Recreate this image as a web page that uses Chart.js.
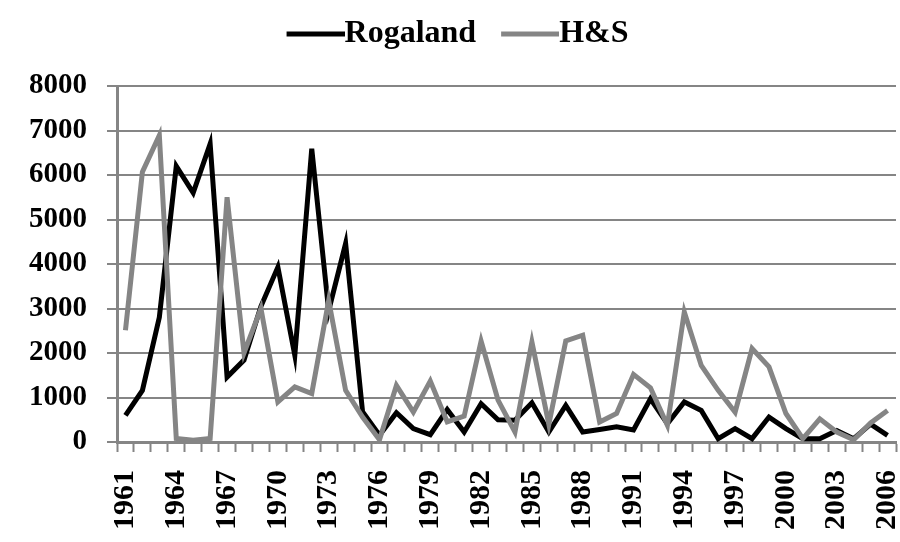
<!DOCTYPE html>
<html>
<head>
<meta charset="utf-8">
<script src="https://cdn.jsdelivr.net/npm/chart.js@4.4.0/dist/chart.umd.min.js"></script>
<style>
  html, body { margin: 0; padding: 0; background: #fff; }
</style>
</head>
<body>
<canvas id="chart" width="900" height="542"></canvas>
<script>
// years on the x axis
let years = ['1961','1962','1963','1964','1965','1966','1967','1968','1969','1970',
             '1971','1972','1973','1974','1975','1976','1977','1978','1979','1980',
             '1981','1982','1983','1984','1985','1986','1987','1988','1989','1990',
             '1991','1992','1993','1994','1995','1996','1997','1998','1999','2000',
             '2001','2002','2003','2004','2005','2006'];

let rogaland = [600,1160,2800,6200,5600,6700,1460,1840,3050,3930,
                1950,6590,2950,4460,680,150,660,300,165,730,
                225,860,500,490,880,225,820,225,280,340,
                270,970,410,900,710,75,300,75,560,300,
                75,75,260,75,400,150];

let hs = [2510,6070,6890,80,40,80,5500,2000,3000,900,
          1240,1090,3180,1160,560,50,1270,670,1370,450,
          580,2270,940,225,2250,400,2270,2400,450,640,
          1520,1220,375,2920,1720,1160,670,2100,1690,640,
          75,520,225,50,430,710];

let yTicks = [0,1000,2000,3000,4000,5000,6000,7000,8000];

let gray = '#858585';
let serif = "'Liberation Serif', 'Times New Roman', serif";

// legend swatch: a line that runs right up to the text
function legendLine(color){
    let c = document.createElement('canvas');
    c.width = 74; c.height = 6;
    let g = c.getContext('2d');
    g.strokeStyle = color;
    g.lineWidth = 5;
    g.beginPath();
    g.moveTo(16, 3);
    g.lineTo(74, 3);
    g.stroke();
    return c;
}

// extra room under the legend so it sits higher above the plot
let legendGap = {
    id: 'legendGap',
    beforeInit(chart) {
        let legend = chart.legend;
        let fit = legend.fit;
        legend.fit = function () {
            fit.call(this);
            this.height += 26;
        };
    }
};

new Chart("chart", {
    type: "line",
    data: {
        labels: years,
        datasets: [{
            label: "Rogaland",
            data: rogaland,
            borderColor: '#000000',
            backgroundColor: '#000000',
            borderWidth: 5,
            pointRadius: 0,
            pointStyle: legendLine('#000000'),
            tension: 0,
            order: 1
        }, {
            label: "H&S",
            data: hs,
            borderColor: gray,
            backgroundColor: gray,
            borderWidth: 5,
            pointRadius: 0,
            pointStyle: legendLine(gray),
            tension: 0,
            order: 0
        }]
    },
    plugins: [legendGap],
    options: {
        responsive: false,
        animation: false,
        layout: { padding: { left: 19, right: 4, top: -12, bottom: 0 } },
        plugins: {
            legend: {
                display: true,
                position: 'top',
                labels: {
                    usePointStyle: true,
                    pointStyleWidth: 42,
                    padding: 25,
                    color: '#000',
                    font: { family: serif, size: 32, weight: 'bold' },
                    sort: (a, b) => a.datasetIndex - b.datasetIndex
                }
            },
            tooltip: { enabled: false }
        },
        scales: {
            x: {
                offset: true,
                grid: {
                    offset: true,
                    drawOnChartArea: false,
                    drawTicks: true,
                    tickLength: 10,
                    tickWidth: 2,
                    tickColor: gray
                },
                border: { color: gray, width: 3 },
                ticks: {
                    autoSkip: false,
                    minRotation: 90,
                    maxRotation: 90,
                    padding: 18,
                    color: '#000',
                    font: { family: serif, size: 30, weight: 'bold' },
                    callback: function (val, idx) {
                        return idx % 3 === 0 ? years[idx] : '';
                    }
                },
                afterFit: function (axis) {
                    axis.height = 100;
                    axis.paddingLeft = 0;
                    axis.paddingRight = 0;
                }
            },
            y: {
                min: 0,
                max: 8000,
                afterBuildTicks: function (axis) {
                    axis.ticks = yTicks.map(v => ({ value: v }));
                },
                grid: {
                    color: gray,
                    lineWidth: 2,
                    drawTicks: true,
                    tickLength: 10
                },
                border: { color: gray, width: 3 },
                ticks: {
                    padding: 20,
                    color: '#000',
                    font: { family: serif, size: 29, weight: 'bold' },
                    callback: v => String(v)
                },
                afterFit: function (axis) {
                    axis.width = 98;
                    axis.paddingTop = 86;
                    axis.paddingBottom = 0;
                }
            }
        }
    }
});
</script>
</body>
</html>
